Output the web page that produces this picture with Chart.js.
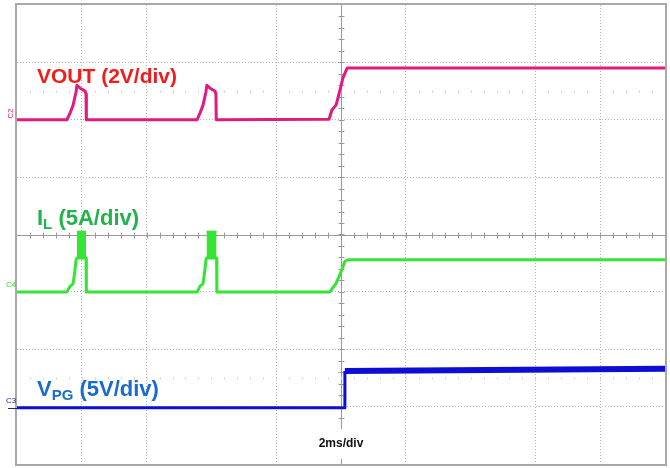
<!DOCTYPE html>
<html>
<head>
<meta charset="utf-8">
<script src="https://cdn.jsdelivr.net/npm/chart.js@4/dist/chart.umd.min.js"></script>
<style>
  html, body { margin: 0; padding: 0; background: #fff; }
  #wrap { width: 670px; height: 468px; position: relative; }
</style>
</head>
<body>
<div id="wrap"><canvas id="scope"></canvas></div>
<script>
// horizontal: time in ms (2ms/div), vertical: divisions from screen centre
const timeTicks = [-10, -8, -6, -4, -2, 0, 2, 4, 6, 8, 10];
const divTicks = [-4, -3, -2, -1, 0, 1, 2, 3, 4];

// VOUT (C2)
const voutTime = [-10, -8.46, -8.36, -8.27, -8.18, -8.15, -8.05, -7.9, -7.87, -7.86,
  -4.44, -4.35, -4.26, -4.17, -4.14, -4.04, -3.89, -3.86, -3.85,
  -0.37, -0.28, -0.15, -0.03, 0.06, 0.19, 10];
const voutLevel = [2.0, 2.0, 2.12, 2.25, 2.48, 2.6, 2.55, 2.5, 2.45, 2.0,
  2.0, 2.12, 2.25, 2.48, 2.6, 2.55, 2.5, 2.45, 2.0,
  2.01, 2.17, 2.26, 2.52, 2.73, 2.9, 2.9];

// IL (C4)
const ilTime = [-10, -8.46, -8.36, -8.27, -8.21, -8.18, -8.15, -7.87, -7.86,
  -4.44, -4.35, -4.26, -4.2, -4.17, -4.15, -3.84, -3.83,
  -0.34, -0.28, -0.15, 0.0, 0.12, 0.22, 10];
const ilLevel = [-1.0, -1.0, -0.9, -0.86, -0.62, -0.45, -0.41, -0.41, -1.0,
  -1.0, -0.9, -0.86, -0.62, -0.45, -0.41, -0.41, -1.0,
  -1.0, -0.95, -0.85, -0.65, -0.47, -0.44, -0.44];
// switching bursts during the hiccup pulses
const ilBurstStart = [-8.15, -4.15];
const ilBurstEnd = [-7.87, -3.84];
const ilBurstHigh = [0.05, 0.05];
const ilBurstLow = [-0.41, -0.41];

// VPG (C3)
const vpgTime = [-10, 0.1, 0.12, 10];
const vpgLevel = [-3.02, -3.02, -2.38, -2.34];

const zip = (xs, ys) => xs.map((x, i) => ({ x: x, y: ys[i] }));

const C_VOUT = "#e2197f";
const C_IL = "#36e436";
const C_VPG = "#0d0dd4";

const datasets = [
  {
    label: "VOUT",
    data: zip(voutTime, voutLevel),
    borderColor: C_VOUT,
    borderWidth: 3,
  },
  {
    label: "IL",
    data: zip(ilTime, ilLevel),
    borderColor: C_IL,
    borderWidth: 3,
  },
  {
    label: "VPG",
    data: zip(vpgTime, vpgLevel),
    borderColor: C_VPG,
    borderWidth: 3,
    segment: {
      borderWidth: (ctx) => (ctx.p0.parsed.x >= 0.11 ? 6 : 3),
    },
  },
];

ilBurstStart.forEach((start, i) => {
  datasets.push({
    label: "IL burst top " + i,
    data: [{ x: start, y: ilBurstHigh[i] }, { x: ilBurstEnd[i], y: ilBurstHigh[i] }],
    borderColor: C_IL,
    backgroundColor: C_IL,
    borderWidth: 2,
    fill: "+1",
  });
  datasets.push({
    label: "IL burst bottom " + i,
    data: [{ x: start, y: ilBurstLow[i] }, { x: ilBurstEnd[i], y: ilBurstLow[i] }],
    borderColor: C_IL,
    borderWidth: 2,
  });
});

// frame, centre cross with its small ticks, and the faint marker rows
const scopeGrid = {
  id: "scopeGrid",
  beforeDatasetsDraw(chart) {
    const { ctx, chartArea: a, scales } = chart;
    const cx = Math.round(scales.x.getPixelForValue(0)) + 0.5;
    const cy = Math.round(scales.y.getPixelForValue(0)) + 0.5;
    const stepX = (scales.x.getPixelForValue(2) - scales.x.getPixelForValue(0)) / 5;
    const stepY = (scales.y.getPixelForValue(0) - scales.y.getPixelForValue(1)) / 5;
    ctx.save();
    ctx.strokeStyle = "#9a9a9a";
    ctx.lineWidth = 1;
    ctx.beginPath();
    ctx.moveTo(a.left, cy);
    ctx.lineTo(a.right, cy);
    ctx.moveTo(cx, a.top);
    ctx.lineTo(cx, a.bottom);
    for (let x = a.left + stepX; x < a.right - 1; x += stepX) {
      const px = Math.round(x) + 0.5;
      ctx.moveTo(px, cy - 3);
      ctx.lineTo(px, cy + 3);
    }
    for (let y = a.top + stepY; y < a.bottom - 1; y += stepY) {
      const py = Math.round(y) + 0.5;
      ctx.moveTo(cx - 3, py);
      ctx.lineTo(cx + 3, py);
    }
    ctx.stroke();

    ctx.strokeStyle = "#d0d0d0";
    ctx.beginPath();
    [2.5, -2.5].forEach((v) => {
      const py = Math.round(scales.y.getPixelForValue(v)) + 0.5;
      for (let x = a.left + stepX; x < a.right - 1; x += stepX) {
        const px = Math.round(x) + 0.5;
        ctx.moveTo(px, py - 1);
        ctx.lineTo(px, py + 1);
      }
    });
    ctx.stroke();

    ctx.strokeStyle = "#a8a8a8";
    ctx.lineWidth = 2;
    ctx.strokeRect(a.left - 1, a.top - 1, a.right - a.left + 2, a.bottom - a.top + 2);
    ctx.restore();
  },
  afterDatasetsDraw(chart) {
    const { ctx, chartArea: a, scales } = chart;
    const y = (v) => scales.y.getPixelForValue(v);
    ctx.save();
    ctx.textBaseline = "alphabetic";
    ctx.textAlign = "left";

    const label = (main, sub, rest, color, size, x0, base) => {
      ctx.fillStyle = color;
      ctx.font = "bold " + size + "px 'Liberation Sans', Arial, sans-serif";
      ctx.fillText(main, x0, base);
      let x = x0 + ctx.measureText(main).width;
      if (sub) {
        ctx.font = "bold " + Math.round(size * 0.68) + "px 'Liberation Sans', Arial, sans-serif";
        ctx.fillText(sub, x, base + 4);
        x += ctx.measureText(sub).width;
      }
      ctx.font = "bold " + size + "px 'Liberation Sans', Arial, sans-serif";
      ctx.fillText(rest, x, base);
    };
    label("VOUT (2V/div)", "", "", "#f01c1c", 21, a.left + 20, 83);
    label("I", "L", " (5A/div)", "#22b24a", 22, a.left + 20, 225);
    label("V", "PG", " (5V/div)", "#1a6ccc", 22, a.left + 20, 396);

    // time base readout
    const cx = scales.x.getPixelForValue(0);
    ctx.fillStyle = "#fff";
    ctx.fillRect(cx - 30, 429, 60, 30);
    ctx.fillStyle = "#111";
    ctx.font = "bold 12px 'Liberation Sans', Arial, sans-serif";
    ctx.textAlign = "center";
    ctx.fillText("2ms/div", cx, 447);

    // channel markers
    ctx.font = "8px 'Liberation Sans', Arial, sans-serif";
    ctx.textAlign = "left";
    ctx.fillStyle = C_IL;
    ctx.fillText("C4", 6, y(-1) - 5);
    ctx.fillStyle = "#22228a";
    ctx.fillText("C3", 6, y(-3.02) - 5);
    ctx.fillStyle = C_VOUT;
    ctx.save();
    ctx.translate(13, y(2) - 1);
    ctx.rotate(-Math.PI / 2);
    ctx.fillText("C2", 0, 0);
    ctx.restore();
    ctx.strokeStyle = "#22228a";
    ctx.lineWidth = 1;
    ctx.beginPath();
    ctx.moveTo(8, Math.round(y(-3.02)) + 0.5);
    ctx.lineTo(a.left, Math.round(y(-3.02)) + 0.5);
    ctx.stroke();
    ctx.restore();
  },
};

const gridColor = (ctx) => {
  const v = ctx.tick ? ctx.tick.value : null;
  if (v === 0 || v === -10 || v === 10 || v === -4 || v === 4) return "rgba(0,0,0,0)";
  return "#b4b4b4";
};

new Chart(document.getElementById("scope"), {
  type: "line",
  data: { datasets: datasets },
  options: {
    responsive: true,
    maintainAspectRatio: false,
    animation: false,
    layout: { padding: { left: 17, right: 5, top: 5, bottom: 4 } },
    elements: {
      point: { radius: 0 },
      line: { tension: 0, borderJoinStyle: "round", borderCapStyle: "butt", fill: false },
    },
    plugins: {
      legend: { display: false },
      tooltip: { enabled: false },
    },
    scales: {
      x: {
        type: "linear",
        min: -10,
        max: 10,
        afterBuildTicks: (axis) => { axis.ticks = timeTicks.map((v) => ({ value: v })); },
        ticks: { display: false },
        grid: { color: gridColor, drawTicks: false, lineWidth: 1 },
        border: { display: false, dash: [1, 2] },
      },
      y: {
        type: "linear",
        min: -4,
        max: 4,
        afterBuildTicks: (axis) => { axis.ticks = divTicks.map((v) => ({ value: v })); },
        ticks: { display: false },
        grid: { color: gridColor, drawTicks: false, lineWidth: 1 },
        border: { display: false, dash: [1, 2] },
      },
    },
  },
  plugins: [scopeGrid],
});
</script>
</body>
</html>
